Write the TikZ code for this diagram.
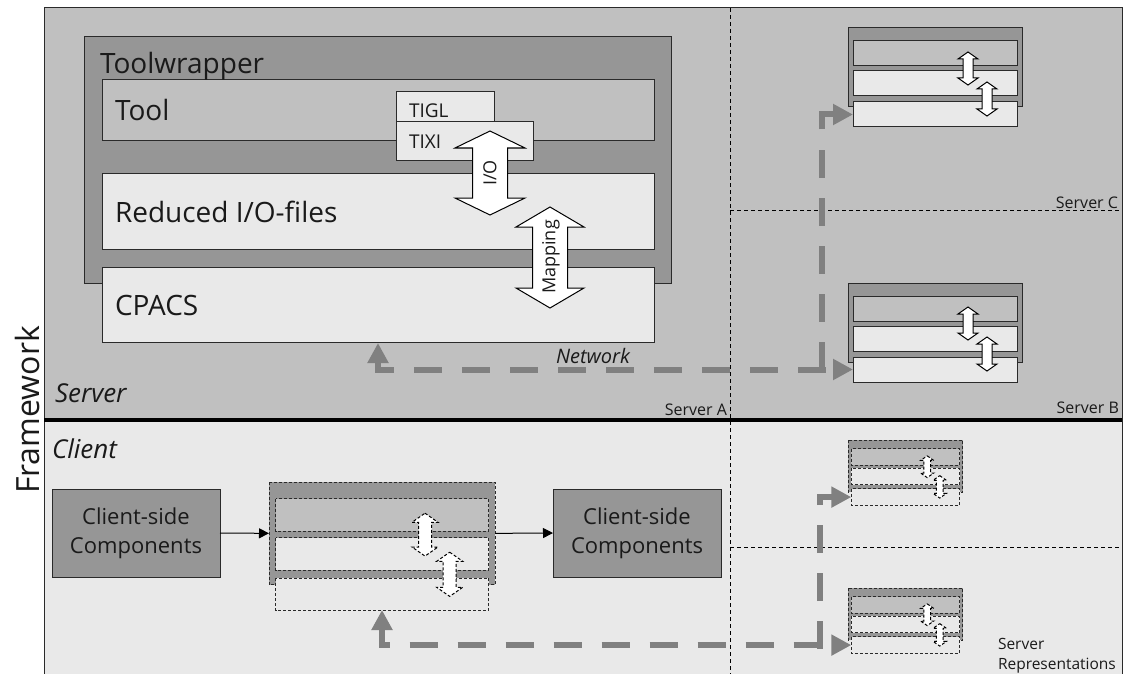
\documentclass[tikz,border=0pt]{standalone}
\usepackage{fontspec}
\setmainfont{Open Sans}
\usetikzlibrary{arrows.meta}
\definecolor{srvbg}{HTML}{C0C0C0}
\definecolor{darkbox}{HTML}{969696}
\definecolor{lightbox}{HTML}{E9E9E9}
\definecolor{netgray}{HTML}{808080}
\definecolor{edge}{HTML}{2A2A2A}
\definecolor{txt}{HTML}{1A1A1A}
\tikzset{
  box/.style={draw=edge, line width=1pt, inner sep=0pt, outer sep=0pt, anchor=north west},
  divider/.style={draw=black, line width=0.8pt, dash pattern=on 4pt off 3pt},
  netline/.style={draw=netgray, line width=6pt, dash pattern=on 28pt off 20pt},
  nettip/.style={fill=netgray},
  bigtxt/.style={font=\fontsize{28}{33}\selectfont, text=txt},
  smalltxt/.style={font=\fontsize{16}{19}\selectfont, text=txt},
  dashbox/.style={dash pattern=on 3pt off 2pt},
}
\newcommand{\vdarr}[7]{% style, cx, ytop, ybot, headhalf, shafthalf, headlen
  \draw[#1] (#2,#3) -- ({#2+#5},{#3+#7}) -- ({#2+#6},{#3+#7}) -- ({#2+#6},{#4-#7}) -- ({#2+#5},{#4-#7}) -- (#2,#4) -- ({#2-#5},{#4-#7}) -- ({#2-#6},{#4-#7}) -- ({#2-#6},{#3+#7}) -- ({#2-#5},{#3+#7}) -- cycle;}
\newcommand{\minstack}[5]{% name, x, y, scale, extra style
  \begin{scope}[shift={(#2,#3)}, scale=#4]
    \draw[draw=edge, line width=1pt, fill=darkbox, #5] (0,0) rectangle (174,79);
    \draw[draw=edge, line width=1pt, fill=srvbg, #5] (5,13) rectangle (169,38);
    \draw[draw=edge, line width=1pt, fill=lightbox, #5] (5,43) rectangle (169,68);
    \draw[draw=edge, line width=1pt, fill=lightbox, #5] (5,74) rectangle (169,99);
    \vdarr{draw=black, line width=1pt, fill=white, #5}{120}{24}{57}{10}{5}{7}
    \vdarr{draw=black, line width=1pt, fill=white, #5}{139}{54}{88}{10}{5}{7}
    \coordinate (#1-in) at (5,86.5);
    \coordinate (#1-w) at (0,39.5);
    \coordinate (#1-e) at (174,39.5);
  \end{scope}}
\begin{document}
\begin{tikzpicture}[x=1pt,y=-1pt, every node/.style={inner sep=0pt, outer sep=0pt}]
\useasboundingbox (0,0) rectangle (1124,674);
\fill[white] (0,0) rectangle (1124,674);
% regions
\fill[srvbg] (44,8) rectangle (1122,420);
\fill[lightbox] (44,420) rectangle (1122,674);
\draw[divider] (730,8) -- (730,674);
\draw[divider] (730,210) -- (1122,210);
\draw[divider] (730,547) -- (1122,547);
\draw[edge, line width=1pt] (44,674) -- (44,8) -- (1122,8) -- (1122,674);
\draw[black, line width=4pt] (44,420) -- (1122,420);

% region labels
\node[rotate=90, font=\fontsize{32}{38}\selectfont, text=txt] (framework) at (27,410) {Framework};
\node[anchor=base west, font=\fontsize{26}{31}\selectfont\itshape, text=txt] (serverlbl) at (55,402) {Server};
\node[anchor=base west, font=\fontsize{26}{31}\selectfont\itshape, text=txt] (clientlbl) at (52,458) {Client};
\node[anchor=base east, smalltxt] (srvA) at (727,415) {Server A};
\node[anchor=base east, smalltxt] (srvB) at (1119,413) {Server B};
\node[anchor=base east, smalltxt] (srvC) at (1118,208) {Server C};
\node[anchor=base west, font=\fontsize{15.5}{19}\selectfont, text=txt, align=left] (srvrep1) at (998,649) {Server};
\node[anchor=base west, font=\fontsize{15.5}{19}\selectfont, text=txt, align=left] (srvrep2) at (998,669) {Representations};

% Toolwrapper (Server A)
\node[box, fill=darkbox, minimum width=587, minimum height=246] (wrapper) at (84,37) {};
\node[box, fill=srvbg, minimum width=552, minimum height=61] (tool) at (102,80) {};
\node[box, fill=lightbox, minimum width=552, minimum height=76] (reduced) at (102,173) {};
\node[box, fill=lightbox, minimum width=552, minimum height=75] (cpacs) at (102,267) {};
\node[box, fill=lightbox, minimum width=98, minimum height=30] (tigl) at (396,92) {};
\node[box, fill=lightbox, minimum width=137, minimum height=38] (tixi) at (396,122) {};
\node[anchor=base west, bigtxt] (wraplbl) at (100,74) {Toolwrapper};
\node[anchor=base west, bigtxt] (toollbl) at (115,121) {Tool};
\node[anchor=base west, bigtxt] (redlbl) at (115,222) {Reduced I/O-files};
\node[anchor=base west, bigtxt] (cpacslbl) at (115,315) {CPACS};
\node[anchor=base west, font=\fontsize{19}{22}\selectfont, text=txt] (tigllbl) at (409,118) {TIGL};
\node[anchor=base west, font=\fontsize{19}{22}\selectfont, text=txt] (tixilbl) at (409,148) {TIXI};
\vdarr{draw=black, line width=1pt, fill=white}{490}{131}{215}{35}{17.5}{17}
\node[rotate=90, font=\fontsize{18}{21}\selectfont, text=txt] (iolbl) at (490,173) {I/O};
\vdarr{draw=black, line width=1pt, fill=white}{550}{207}{308}{34}{17.5}{20}
\node[rotate=90, font=\fontsize{18}{21}\selectfont, text=txt] (maplbl) at (551,257) {Mapping};
\node[anchor=base west, font=\fontsize{20}{24}\selectfont\itshape, text=txt] (netlbl) at (556,363) {Network};

% Server C and Server B stacks
\minstack{sC}{848}{28}{1}{}
\minstack{sB}{848}{283}{1}{}

% Client side
\node[box, fill=darkbox, minimum width=168, minimum height=88, anchor=center, align=center,
      font=\fontsize{22}{29}\selectfont, text=txt] (csc1) at (136,533) {Client-side\\Components};
\node[box, fill=darkbox, minimum width=168, minimum height=88, anchor=center, align=center,
      font=\fontsize{22}{29}\selectfont, text=txt] (csc2) at (637,533) {Client-side\\Components};
\minstack{cM}{269}{482}{1.3}{dashbox}
\minstack{cU}{848}{440}{0.66}{dashbox}
\minstack{cL}{848}{588}{0.66}{dashbox}
\draw[black, line width=1pt, -{Triangle[length=10pt,width=10pt]}] (csc1.east) -- (cM-w);
\draw[black, line width=1pt, -{Triangle[length=10pt,width=10pt]}] (cM-e) -- (csc2.west);

% network connectors
\coordinate (netA) at (378,343);
\coordinate (netB) at (822,369.5);
\coordinate (netC) at (382,610);
\coordinate (netD) at (820,649);
\draw[netline, dash phase=4pt, {Triangle[length=20pt,width=20pt]}-{Triangle[length=20pt,width=20pt]}] (netA) |- (sB-in);
\draw[netline, -{Triangle[length=20pt,width=20pt]}] (netB) |- (sC-in);
\draw[netline, dash phase=4pt, {Triangle[length=20pt,width=20pt]}-{Triangle[length=20pt,width=20pt]}] (netC) |- (cL-in);
\draw[netline, -{Triangle[length=20pt,width=20pt]}] (netD) |- (cU-in);
\end{tikzpicture}
\end{document}
